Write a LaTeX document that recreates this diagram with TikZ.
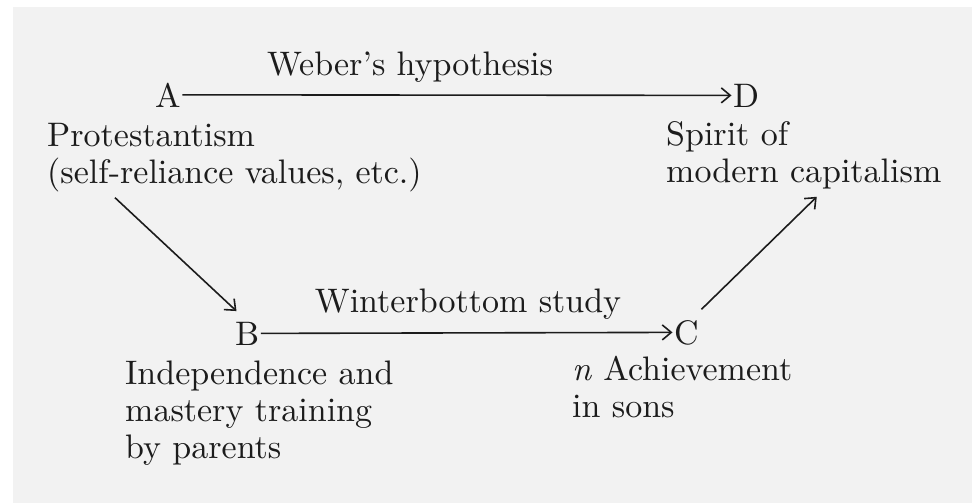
\documentclass[tikz,border=0pt]{standalone}
\usepackage{fontspec}
\setmainfont{lmroman10}[Extension=.otf, UprightFont=*-regular, ItalicFont=*-italic, BoldFont=*-bold, BoldItalicFont=*-bolditalic]
\usetikzlibrary{arrows.meta}
\definecolor{ink}{HTML}{1C1C1C}
\definecolor{page}{HTML}{F2F2F2}
\tikzset{
  lbl/.style={inner sep=0pt, anchor=base west, text=ink, align=left, font=\fontsize{34}{37}\selectfont},
  letter/.style={inner sep=1.5pt, anchor=base west, text=ink, font=\fontsize{34}{37}\selectfont},
  ttl/.style={inner sep=0pt, anchor=base, text=ink, font=\fontsize{34}{37}\selectfont},
  conn/.style={draw=ink, line width=1.6pt, -{Straight Barb[length=9pt,width=15pt,line width=1.6pt]}}
}
\begin{document}
\begin{tikzpicture}[x=1pt,y=-1pt]
\useasboundingbox (0,0) rectangle (972,503);
\fill[white] (0,0) rectangle (972,503);
\fill[page] (13,7) rectangle (972,503);
% labels (multi-line labels are placed by the baseline of their last line)
\node[ttl] (weber) at (410,75) {Weber's hypothesis};
\node[letter] (A) at (153.5,107) {A};
\node[letter] (D) at (731.5,107) {D};
\node[lbl] (prot) at (47,183) {Protestantism\\(self-reliance values, etc.)};
\node[lbl] (spirit) at (666,182) {Spirit of\\modern capitalism};
\node[ttl] (winter) at (468,312) {Winterbottom study};
\node[letter] (B) at (233.5,345) {B};
\node[letter] (C) at (672.5,344) {C};
\node[lbl] (indep) at (125,458) {Independence and\\mastery training\\by parents};
\node[lbl] (nach) at (572,417) {\textit{n} Achievement\\in sons};
% connectors
\draw[conn] (A.east) -- (D.west);
\draw[conn] (B.east) -- (C.west);
\coordinate (p1) at ([xshift=68pt,yshift=-6pt]prot.south west);
\coordinate (b1) at ([xshift=3pt,yshift=9pt]B.north west);
\draw[conn] (p1) -- (b1);
\coordinate (c1) at ([xshift=1pt,yshift=9pt]C.north east);
\coordinate (d1) at ([xshift=13pt,yshift=-8pt]spirit.south);
\draw[conn] (c1) -- (d1);
\end{tikzpicture}
\end{document}
